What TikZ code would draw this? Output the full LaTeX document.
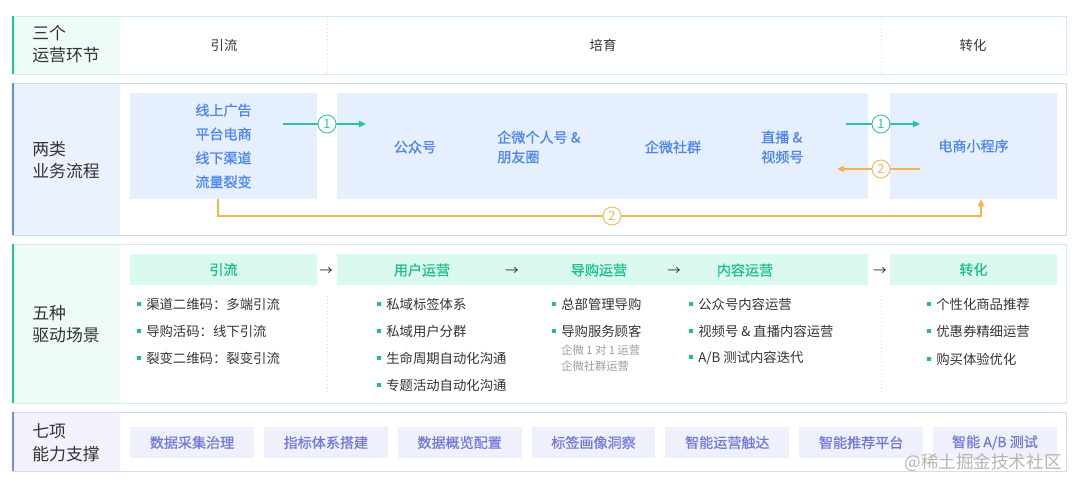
\documentclass[tikz,border=0pt]{standalone}
\usepackage{fontspec}
\setmainfont{Noto Sans CJK SC}
\newfontfamily\medfont{Noto Sans CJK SC}[FakeBold=0.6]
\usepackage{xcolor}
\usepackage{tikz}
\usetikzlibrary{arrows.meta,positioning}
\definecolor{Ink}{HTML}{333333}
\definecolor{Note}{HTML}{9A9A9A}
\definecolor{MintLine}{HTML}{CDEEE3}
\definecolor{MintBar}{HTML}{22C78F}
\definecolor{MintBg}{HTML}{EEFBF6}
\definecolor{BlueLine}{HTML}{C8D9F5}
\definecolor{BlueBar}{HTML}{5B8DEF}
\definecolor{BlueBg}{HTML}{ECF2FD}
\definecolor{FlowFill}{HTML}{E5EFFD}
\definecolor{FlowTxt}{HTML}{4C86EE}
\definecolor{PurpLine}{HTML}{D8D9F4}
\definecolor{PurpBar}{HTML}{8287DE}
\definecolor{PurpBg}{HTML}{F1F2FC}
\definecolor{CapFill}{HTML}{EEF0FC}
\definecolor{CapTxt}{HTML}{7379D9}
\definecolor{HeadFill}{HTML}{DBFAEE}
\definecolor{HeadTxt}{HTML}{1BBE8A}
\definecolor{Bul}{HTML}{1FBF8F}
\definecolor{Go}{HTML}{2CC39A}
\definecolor{Back}{HTML}{F5B351}
\definecolor{SepLine}{HTML}{D3DCDF}
\definecolor{Water}{HTML}{B4B4B4}
\newcommand{\itm}[1]{{\color{Bul}\rule[2.4pt]{2.8pt}{2.8pt}}\hspace{3.6pt}#1}

\begin{document}
\begin{tikzpicture}[x=0.025cm,y=-0.025cm,
  every node/.style={inner sep=0pt,font=\fontsize{9.5}{12}\selectfont,text=Ink},
  framebox/.style={line width=0.7pt},
  sidebar/.style={line width=1.6pt},
  lab/.style={anchor=west,align=left,font=\fontsize{12}{16}\selectfont},
  flow/.style={fill=FlowFill,text=FlowTxt,font=\medfont\fontsize{10}{14}\selectfont,align=left},
  headbar/.style={fill=HeadFill,minimum height=0.775cm,text=HeadTxt,font=\medfont\fontsize{10}{12}\selectfont},
  capbox/.style={fill=CapFill,minimum width=3.0975cm,minimum height=0.775cm,text=CapTxt,font=\medfont\fontsize{10}{12}\selectfont},
  item/.style={anchor=west},
  subnote/.style={anchor=west,text=Note,font=\fontsize{8}{10}\selectfont},
  num/.style={circle,draw,fill=white,minimum size=0.45cm,line width=0.6pt,font=\fontsize{9}{10}\selectfont},
  gline/.style={draw=Go,line width=0.8pt},
  oline/.style={draw=Back,line width=0.8pt},
  arrowtip/.style={-{Triangle[length=5pt,width=4.5pt]}},
  sepline/.style={draw=SepLine,dotted,line width=0.6pt}]
\useasboundingbox (0,0) rectangle (1080,488);

% row 1: three stages
\fill[MintBg] (13,16) rectangle (120,74);
\draw[framebox,MintLine] (13,16) rectangle (1066,74);
\draw[sidebar,MintBar] (13,16) -- (13,74);
\draw[sepline] (327,17) -- (327,73);
\draw[sepline] (881,17) -- (881,73);
\node[lab] (l1) at (32,44) {三个\\运营环节};
\node (s1) at (224,45) {引流};
\node (s2) at (603,45) {培育};
\node (s3) at (973,45) {转化};

% row 2: business flows
\fill[BlueBg] (13,83) rectangle (120,235);
\draw[framebox,BlueLine] (13,83) rectangle (1066,235);
\draw[sidebar,BlueBar] (13,83) -- (13,235);
\node[lab] (l2) at (32,160) {两类\\业务流程};
\node[flow,minimum width=4.675cm,minimum height=2.65cm,font=\medfont\fontsize{10}{17}\selectfont,align=center] (src) at (223.5,146)
  {线上广告\\平台电商\\线下渠道\\流量裂变};
\node[flow,minimum width=13.275cm,minimum height=2.65cm] (pool) at (602.5,146) {};
\node[flow,minimum width=4.175cm,minimum height=2.65cm] (shop) at (973.5,146) {电商小程序};
\node[flow,fill=none] (p1) at (415,147) {公众号};
\node[flow,fill=none,anchor=west] (p2) at (497,147) {企微个人号 \&\\朋友圈};
\node[flow,fill=none] (p3) at (673,147) {企微社群};
\node[flow,fill=none,anchor=west] (p4) at (761,147) {直播 \&\\视频号};

\node[num,draw=Go,text=Go] (c1a) at (327,124) {1};
\node[num,draw=Go,text=Go] (c1b) at (881,124) {1};
\node[num,draw=Back,text=Back] (c2a) at (881,169) {2};
\node[num,draw=Back,text=Back] (c2b) at (612,216) {2};
\coordinate (g1s) at (283,124);
\coordinate (g1e) at (366,124);
\coordinate (g2s) at (846,124);
\coordinate (g2e) at (920,124);
\coordinate (o1s) at (920,169);
\coordinate (o1e) at (837,169);
\draw[gline] (g1s) -- (c1a);
\draw[gline,arrowtip] (c1a) -- (g1e);
\draw[gline] (g2s) -- (c1b);
\draw[gline,arrowtip] (c1b) -- (g2e);
\draw[oline] (o1s) -- (c2a);
\draw[oline,arrowtip] (c2a) -- (o1e);
\draw[oline] ([xshift=-0.1375cm]src.south) |- (c2b);
\draw[oline,arrowtip] (c2b) -| ([xshift=0.1875cm]shop.south);

% row 3: five scenarios
\fill[MintBg] (13,244) rectangle (120,403);
\draw[framebox,MintLine] (13,244) rectangle (1066,403);
\draw[sidebar,MintBar] (13,244) -- (13,403);
\node[lab] (l3) at (32,324) {五种\\驱动场景};
\node[headbar,minimum width=4.675cm] (h1) at (223.5,269.5) {引流};
\node[headbar,minimum width=13.275cm] (h2) at (602.5,269.5) {};
\node[headbar,minimum width=4.175cm] (h3) at (973.5,269.5) {转化};
\node[headbar,fill=none] (h2a) at (422,270) {用户运营};
\node[headbar,fill=none] (h2b) at (599,270) {导购运营};
\node[headbar,fill=none] (h2c) at (745,270) {内容运营};
\node (a1) at (326,271) {→};
\node (a2) at (512,271) {→};
\node (a3) at (674,271) {→};
\node (a4) at (880,271) {→};
\draw[sepline] (327,296) -- (327,393);
\draw[sepline] (881,296) -- (881,393);
\foreach \t [count=\i] in {渠道二维码：多端引流,导购活码：线下引流,裂变二维码：裂变引流}
  \node[item] (ya\i) at (137,{304+27*(\i-1)}) {\itm{\t}};
\foreach \t [count=\i] in {私域标签体系,私域用户分群,生命周期自动化沟通,专题活动自动化沟通}
  \node[item] (yb\i) at (377,{304+27*(\i-1)}) {\itm{\t}};
\foreach \t [count=\i] in {总部管理导购,导购服务顾客}
  \node[item] (yc\i) at (552,{304+27*(\i-1)}) {\itm{\t}};
\node[subnote] (n1) at (561,350) {企微 1 对 1 运营};
\node[subnote] (n2) at (561,366) {企微社群运营};
\foreach \t [count=\i] in {公众号内容运营,视频号 \& 直播内容运营,A/B 测试内容迭代}
  \node[item] (yd\i) at (689,{304+27*(\i-1)}) {\itm{\t}};
\foreach \t [count=\i] in {个性化商品推荐,优惠券精细运营,购买体验优化}
  \node[item] (ye\i) at (927,{304+27.5*(\i-1)}) {\itm{\t}};

% row 4: seven capabilities
\fill[PurpBg] (13,412) rectangle (120,471);
\draw[framebox,PurpLine] (13,412) rectangle (1066,471);
\draw[sidebar,PurpBar] (13,412) -- (13,471);
\node[lab] (l4) at (32,443) {七项\\能力支撑};
\foreach \t [count=\i] in {数据采集治理,指标体系搭建,数据概览配置,标签画像洞察,智能运营触达,智能推荐平台,智能 A/B 测试}
  \node[capbox] (k\i) at ({192+133.83*(\i-1)},442.5) {\t};

\node[text=Water,font=\fontsize{12.5}{14}\selectfont] (wm) at (983,463) {@稀土掘金技术社区};
\end{tikzpicture}
\end{document}
